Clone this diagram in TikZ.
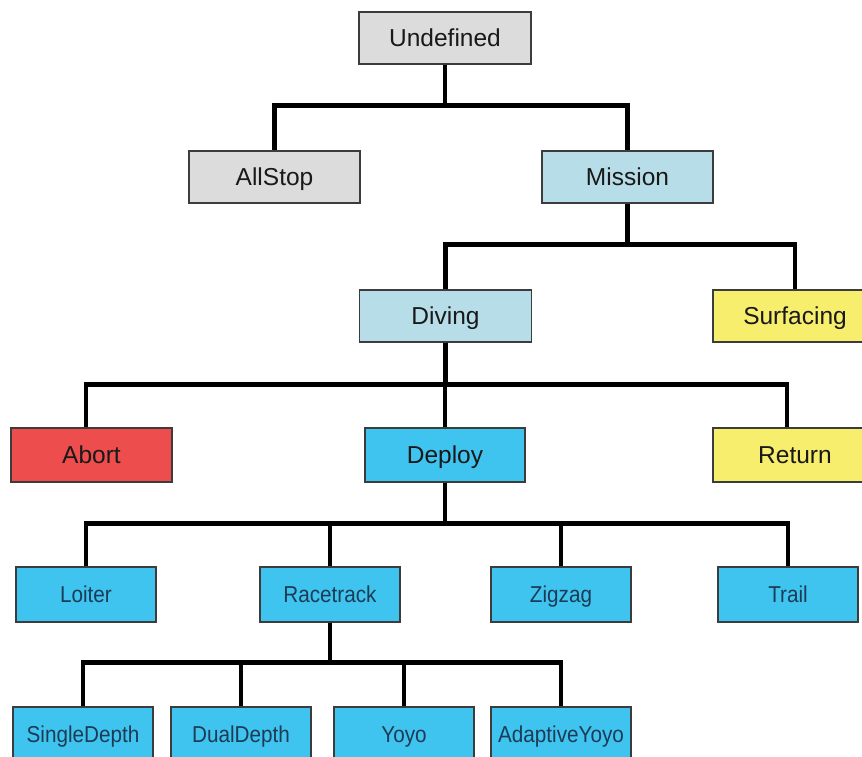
\documentclass[tikz,border=0pt]{standalone}
\usepackage{fontspec}
\setmainfont{Liberation Sans}
\newfontfamily\narrowsans[FakeStretch=0.9]{Liberation Sans}
\definecolor{boxline}{HTML}{3C3C3C}
\definecolor{stopgray}{HTML}{DCDCDC}
\definecolor{missionblue}{HTML}{B7DEE8}
\definecolor{surfaceyellow}{HTML}{F6EE6C}
\definecolor{abortred}{HTML}{EE4D4D}
\definecolor{deployblue}{HTML}{3FC4F0}
\definecolor{leaftext}{HTML}{1C3B55}

\begin{document}
\begin{tikzpicture}[x=1pt,y=-1pt,
  state/.style={draw=boxline,line width=1.2pt,inner sep=0pt,minimum height=52pt,
    text height=17.6pt,text depth=0pt,
    text=black!90,font=\fontsize{24.5}{24.5}\selectfont},
  leaf/.style={state,fill=deployblue,minimum width=140pt,minimum height=55pt,
    text height=16.6pt,text=leaftext,font=\narrowsans\fontsize{23}{23}\selectfont},
  link/.style={line width=4.5pt,line join=miter}]
\clip (0,0) rectangle (862,757);
% Let us start with the upper states:
\node [state,fill=stopgray,minimum width=172pt] (undefined) at (445,38) {Undefined};
\node [state,fill=stopgray,minimum width=171pt] (allstop) at (274.5,177) {AllStop};
\node [state,fill=missionblue,minimum width=171pt] (mission) at (627.5,177) {Mission};
\node [state,fill=missionblue,minimum width=172pt] (diving) at (445.5,316) {Diving};
\node [state,fill=surfaceyellow,minimum width=164pt] (surfacing) at (795,316) {Surfacing};
\node [state,fill=abortred,minimum width=161pt,minimum height=54pt] (abort) at (91.5,455) {Abort};
\node [state,fill=deployblue,minimum width=160pt,minimum height=54pt] (deploy) at (445,455) {Deploy};
\node [state,fill=surfaceyellow,minimum width=164pt,minimum height=54pt] (return) at (795,455) {Return};
% the deploy behaviours
\foreach \name/\label/\x in {loiter/Loiter/86,racetrack/Racetrack/330,
  zigzag/Zigzag/561,trail/Trail/788}
{
\node [leaf] (\name) at (\x,594.5) {\label};
}
% and the racetrack depth modes
\foreach \name/\label/\x in {singledepth/SingleDepth/83,dualdepth/DualDepth/241,
  yoyo/Yoyo/404,adaptiveyoyo/AdaptiveYoyo/561}
{
\node [leaf,minimum height=54pt] (\name) at (\x,734) {\label};
}
\draw [link] (undefined.south) -- ++(0,41) -| (allstop.north);
\draw [link] (undefined.south) -- ++(0,41) -| (mission.north);
\draw [link] (mission.south) -- ++(0,41) -| (diving.north);
\draw [link] (mission.south) -- ++(0,41) -| (surfacing.north);
\draw [link] (diving.south) -- ++(0,42) -| ([xshift=-5.5pt]abort.north);
\draw [link] (diving.south) -- ++(0,42) -| (deploy.north);
\draw [link] (diving.south) -- ++(0,42) -| ([xshift=-8pt]return.north);
\foreach \name in {loiter,racetrack,zigzag,trail}
\draw [link] (deploy.south) -- ++(0,41) -| (\name.north);
\foreach \name in {singledepth,dualdepth,yoyo,adaptiveyoyo}
\draw [link] (racetrack.south) -- ++(0,40) -| (\name.north);
\end{tikzpicture}
\end{document}
